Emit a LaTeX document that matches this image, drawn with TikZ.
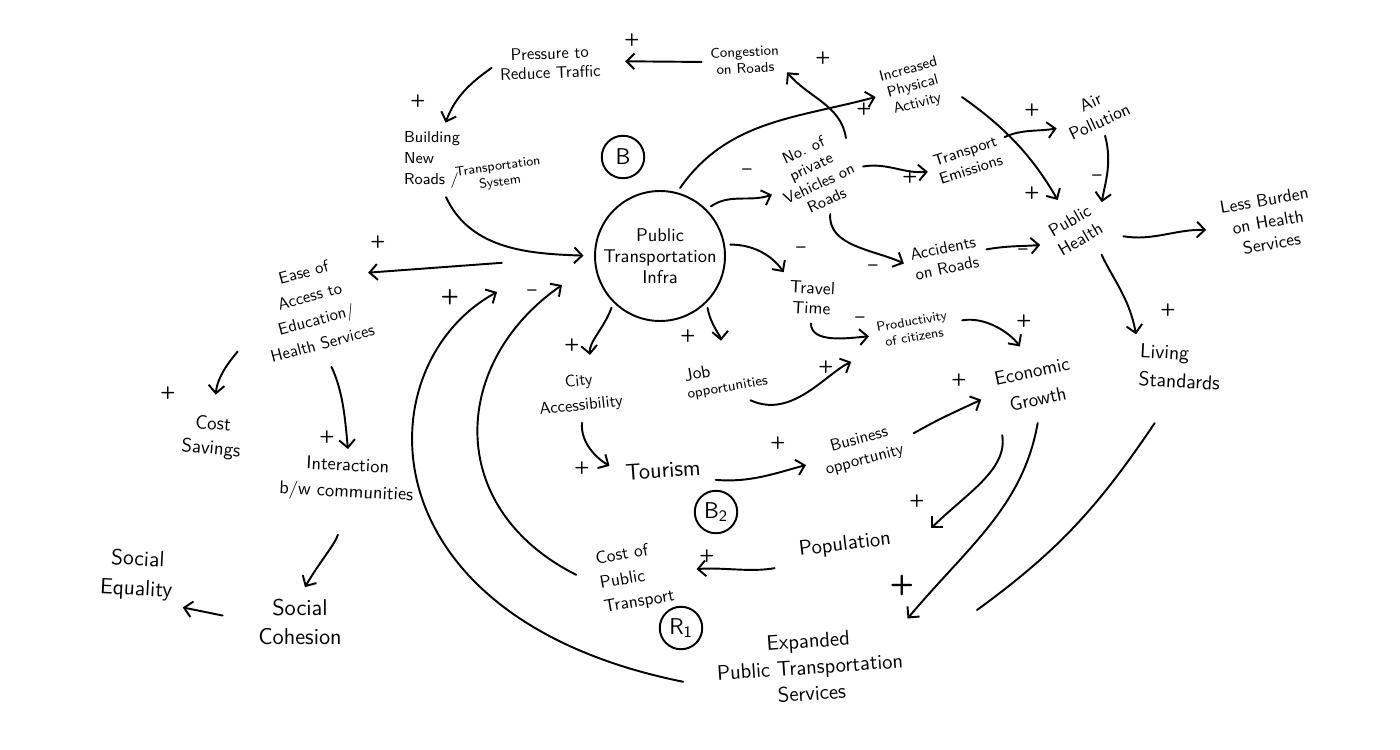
\documentclass[tikz,border=0pt]{standalone}
\usepackage{fontspec}
\usetikzlibrary{arrows.meta, calc, positioning}
\tikzset{
  cld/.style={x=0.02cm, y=0.02cm, >={Straight Barb[length=4.5pt, width=9pt]},
    line cap=round, line join=round},
  fs/.style 2 args={font=\sffamily\fontsize{#1}{#2}\selectfont},
  var/.style={align=center, inner sep=2pt, fs={9.5}{12}},
  lnk/.style={->, line width=1.1pt, shorten >=3pt, shorten <=3pt},
  pol/.style={inner sep=0pt, font=\sffamily\bfseries\fontsize{10}{10}\selectfont},
  loopmark/.style={draw, circle, line width=1.1pt, minimum size=0.85cm, inner sep=0pt, fs={13}{13}},
}
\begin{document}
\begin{tikzpicture}[cld]
  \useasboundingbox (0,0) rectangle (1400,-750);
  % top loop variables
  \node[var, fs={9.5}{11}, rotate=2] (press) at (550,-63) {Pressure to\\Reduce Traffic};
  \node[var, fs={8}{9.5}, rotate=3] (cong) at (745,-60) {Congestion\\on Roads};
  \node[var, fs={9}{12}, align=left] (build) at (432,-160) {Building\\New\\Roads /};
  \node[var, fs={7.5}{9}, rotate=8] (buildsys) at (499,-175) {Transportation\\System};
  \node[var, draw, circle, line width=1.1pt, minimum size=2.6cm, inner sep=0pt, fs={10.5}{12}] (pti) at (660,-256) {Public\\Transportation\\Infra};
  \node[loopmark] (lpB) at (623,-157) {B};
  % health side
  \node[var, fs={9}{10.5}, rotate=25] (priv) at (815,-175) {No. of\\private\\Vehicles on\\Roads};
  \node[var, fs={8.5}{10}, rotate=15] (ipa) at (913,-87) {Increased\\Physical\\Activity};
  \node[var, fs={9}{11}, rotate=18] (emis) at (968,-160) {Transport\\Emissions};
  \node[var, fs={10}{12}, rotate=25] (air) at (1095,-112) {Air\\Pollution};
  \node[var, fs={9.5}{11.5}, rotate=12] (acc) at (945,-258) {Accidents\\on Roads};
  \node[var, fs={10}{12}, rotate=30] (ph) at (1075,-230) {Public\\Health};
  \node[var, fs={10}{12.5}, rotate=10] (burden) at (1268,-222) {Less Burden\\on Health\\Services};
  \node[var, fs={10}{11.5}, rotate=-3] (travel) at (812,-298) {Travel\\Time};
  \node[var, fs={7.5}{9}, rotate=10] (prod) at (913,-329) {Productivity\\of citizens};
  \node[var, fs={11}{16}, rotate=12] (econ) at (1035,-385) {Economic\\Growth};
  \node[var, fs={11.5}{16}, rotate=-3, align=left] (living) at (1180,-367) {Living\\Standards};
  % social side
  \node[var, fs={9.5}{14}, rotate=15] (ease) at (313,-308) {Ease of\\Access to\\Education/\\Health Services};
  \node[var, fs={11}{14}, rotate=-5] (savings) at (212,-437) {Cost\\Savings};
  \node[var, fs={10.5}{15}, rotate=-3] (inter) at (347,-480) {Interaction\\b/w communities};
  \node[var, fs={13}{16}] (cohes) at (300,-622) {Social\\Cohesion};
  \node[var, fs={12.5}{17}, rotate=-3] (equal) at (137,-575) {Social\\Equality};
  % economy side
  \node[var, fs={9.5}{14}, rotate=6] (city) at (580,-394) {City\\Accessibility};
  \node[var, fs={8}{10}, rotate=10, align=left] (job) at (726,-378) {{\fontsize{10}{10}\selectfont Job}\\opportunities};
  \node[var, fs={13}{15}, rotate=4] (tour) at (663,-470) {Tourism};
  \node[var, fs={9.5}{12}, rotate=15] (bus) at (862,-450) {Business\\opportunity};
  \node[loopmark] (lpB2) at (716,-512) {B\textsubscript{2}};
  \node[var, fs={12}{14}, rotate=7] (pop) at (845,-545) {Population};
  \node[var, fs={10}{14}, rotate=10, align=left] (cost) at (635,-578) {Cost of\\Public\\Transport};
  \node[loopmark] (lpR1) at (681,-628) {R\textsubscript{1}};
  \node[var, fs={12}{15}, rotate=4] (exp) at (810,-667) {Expanded\\Public Transportation\\Services};
  \coordinate (livend) at (977,-610);

  % loop B
  \draw[lnk, shorten >=12pt] (cong.west) -- (press.east);
  \draw[lnk] (press.west) to[out=215,in=70] (build.70);
  \draw[lnk, shorten >=6pt] (build.-70) to[out=-65,in=178] (pti.west);
  \draw[lnk] (priv.20) to[out=98,in=-50] (cong.-15);
  % social branch
  \draw[lnk, shorten <=1.85cm] (pti.west) -- (ease.20);
  \draw[lnk, shorten <=0.7cm, shorten >=10pt] (ease.west) to[out=235,in=85] (savings.north);
  \draw[lnk, shorten <=0.3cm] (ease.south) to[out=-65,in=95] (inter.north);
  \draw[lnk, shorten <=0.6cm, shorten >=0.2cm] (inter.south) to[out=-105,in=60] (cohes.north);
  \draw[lnk, shorten <=0.65cm, shorten >=0.15cm] (cohes.west) -- (equal.south east);
  % health branch
  \draw[lnk] (pti.45) to[out=35,in=200] (priv.west);
  \draw[lnk] (pti.75) to[out=55,in=195] (ipa.west);
  \draw[lnk] (priv.-15) to[out=10,in=185] (emis.west);
  \draw[lnk] (emis.15) to[out=25,in=190] (air.west);
  \draw[lnk] (priv.south) to[out=-95,in=155] (acc.west);
  \draw[lnk, shorten <=10pt, shorten >=8pt] (ipa.-15) to[out=-35,in=120] (ph.north);
  \draw[lnk, shorten >=8pt] (air.south) to[out=-75,in=80] (ph.east);
  \draw[lnk, shorten >=6pt] (acc.east) to[out=10,in=185] (ph.west);
  \draw[lnk, shorten <=8pt, shorten >=8pt] (ph.south east) to[out=-10,in=178] (burden.west);
  \draw[lnk, shorten <=8pt] (ph.-60) to[out=-65,in=100] (living.north west);
  % economy branch
  \draw[lnk] (pti.10) to[out=0,in=125] (travel.north west);
  \draw[lnk] (travel.south) to[out=-90,in=185] (prod.west);
  \draw[lnk, shorten <=6pt, shorten >=10pt] (prod.east) to[out=10,in=125] (econ.north);
  \draw[lnk, shorten >=8pt] (pti.225) to[out=250,in=95] (city.60);
  \draw[lnk, shorten >=10pt] (pti.-45) to[out=-80,in=95] (job.north);
  \draw[lnk, shorten <=6pt, shorten >=16pt] (job.-60) to[out=-25,in=205] (prod.200);
  \draw[lnk, shorten >=8pt] (city.south) to[out=-95,in=150] (tour.west);
  \draw[lnk, shorten <=6pt, shorten >=8pt] (tour.south east) to[out=-5,in=195] (bus.west);
  \draw[lnk, shorten <=6pt, shorten >=8pt] (bus.east) to[out=30,in=205] (econ.west);
  \draw[lnk, shorten <=10pt] (econ.south west) to[out=-80,in=45] ([shift={(33,7)}]pop.east);
  \draw[lnk, shorten <=8pt] (econ.south) to[out=-100,in=50] (exp.north east);
  \draw[line width=1.1pt, line cap=round] ([shift={(-24,-31)}]living.south) to[out=-124,in=36] (livend);
  \draw[lnk, shorten <=13pt, shorten >=13pt] (pop.south west) to[out=190,in=5] (cost.east);
  % feedback into the infrastructure
  \draw[lnk, shorten <=0pt, shorten >=0pt] ([shift={(-30,-8)}]exp.west) .. controls +(-323,65) and +(-132,-72) .. ([shift={(-97,-36)}]pti.west);
  \draw[lnk, shorten <=0pt, shorten >=0pt] ([shift={(-20,10)}]cost.west) .. controls +(-133,67) and +(-111,-77) .. ([shift={(-32,-29)}]pti.west);

  % polarity signs
  \node[pol] (s1) at (632,-40) {+};
  \node[pol] (s2) at (418,-101) {+};
  \node[pol] (s3) at (378,-242) {+};
  \node[pol] (s4) at (168,-393) {+};
  \node[pol] (s5) at (327,-437) {+};
  \node[pol] (s6) at (747,-172) {--};
  \node[pol] (s7) at (864,-109) {+};
  \node[pol] (s8) at (823,-58) {+};
  \node[pol] (s9) at (910,-177) {+};
  \node[pol] (s10) at (1032,-110) {+};
  \node[pol] (s11) at (1032,-193) {+};
  \node[pol] (s12) at (1097,-178) {--};
  \node[pol] (s13) at (873,-268) {--};
  \node[pol] (s14) at (1023,-252) {--};
  \node[pol] (s15) at (801,-250) {--};
  \node[pol] (s16) at (860,-320) {--};
  \node[pol] (s17) at (1024,-321) {+};
  \node[pol] (s18) at (1168,-310) {+};
  \node[pol] (s19) at (572,-345) {+};
  \node[pol] (s20) at (688,-336) {+};
  \node[pol] (s21) at (826,-367) {+};
  \node[pol] (s22) at (582,-468) {+};
  \node[pol] (s23) at (778,-443) {+};
  \node[pol] (s24) at (959,-380) {+};
  \node[pol] (s25) at (917,-501) {+};
  \node[pol, font=\sffamily\bfseries\fontsize{16}{16}\selectfont] (s26) at (902,-585) {+};
  \node[pol] (s27) at (707,-556) {+};
  \node[pol, font=\sffamily\bfseries\fontsize{12}{12}\selectfont] (s28) at (450,-297) {+};
  \node[pol] (s29) at (532,-293) {--};
\end{tikzpicture}
\end{document}
